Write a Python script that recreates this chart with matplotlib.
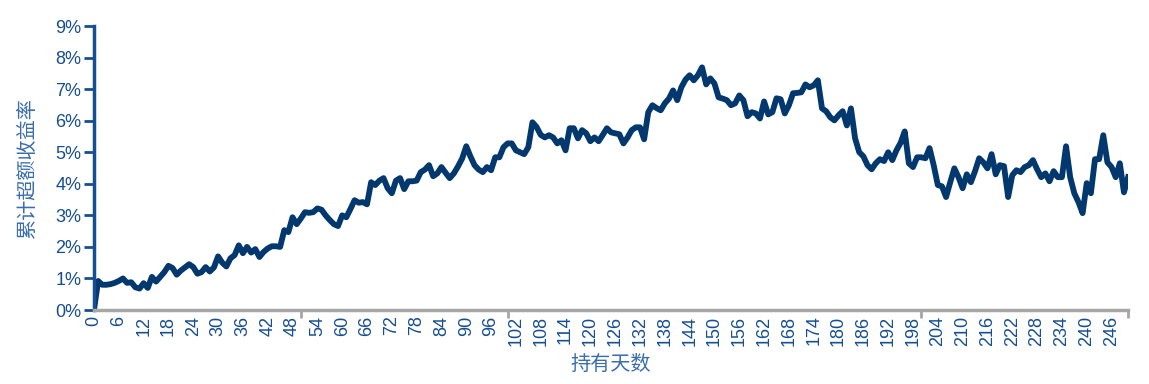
import numpy as np
import matplotlib
matplotlib.use('Agg')
import matplotlib.pyplot as plt
from matplotlib.ticker import MultipleLocator, FuncFormatter

plt.rcParams['font.family'] = ['Liberation Sans', 'Noto Sans CJK SC', 'DejaVu Sans']

# Cumulative excess return (%) by holding day
days = np.arange(0, 251)
excess = [
    0.00, 0.92, 0.80, 0.80, 0.82, 0.86, 0.92, 1.00, 0.86, 0.88,   # 0-9
    0.72, 0.68, 0.85, 0.70, 1.05, 0.90, 1.05, 1.20, 1.40, 1.33,   # 10-19
    1.12, 1.25, 1.35, 1.45, 1.36, 1.15, 1.20, 1.36, 1.22, 1.35,   # 20-29
    1.70, 1.50, 1.38, 1.64, 1.74, 2.05, 1.80, 2.00, 1.82, 1.93,   # 30-39
    1.68, 1.84, 1.95, 2.02, 2.02, 2.00, 2.53, 2.47, 2.94, 2.72,   # 40-49
    2.90, 3.10, 3.08, 3.10, 3.22, 3.18, 3.00, 2.85, 2.72, 2.66,   # 50-59
    3.00, 2.94, 3.20, 3.48, 3.40, 3.42, 3.35, 4.05, 3.96, 4.10,   # 60-69
    4.18, 3.86, 3.70, 4.10, 4.18, 3.83, 4.08, 4.08, 4.10, 4.37,   # 70-79
    4.45, 4.59, 4.24, 4.33, 4.53, 4.35, 4.18, 4.33, 4.55, 4.80,   # 80-89
    5.19, 4.87, 4.59, 4.45, 4.37, 4.53, 4.43, 4.84, 4.84, 5.16,   # 90-99
    5.28, 5.28, 5.06, 5.00, 4.94, 5.16, 5.95, 5.80, 5.55, 5.47,   # 100-109
    5.54, 5.47, 5.28, 5.38, 5.06, 5.76, 5.76, 5.44, 5.70, 5.60,   # 110-119
    5.35, 5.47, 5.35, 5.55, 5.76, 5.63, 5.60, 5.57, 5.28, 5.47,   # 120-129
    5.70, 5.79, 5.79, 5.41, 6.27, 6.49, 6.40, 6.33, 6.55, 6.70,   # 130-139
    6.96, 6.65, 7.06, 7.30, 7.44, 7.28, 7.44, 7.69, 7.15, 7.34,   # 140-149
    7.18, 6.74, 6.70, 6.65, 6.49, 6.55, 6.80, 6.65, 6.14, 6.27,   # 150-159
    6.23, 6.07, 6.61, 6.20, 6.27, 6.71, 6.68, 6.23, 6.49, 6.87,   # 160-169
    6.88, 6.90, 7.15, 7.06, 7.12, 7.28, 6.39, 6.30, 6.11, 6.01,   # 170-179
    6.17, 6.30, 5.85, 6.39, 5.44, 5.00, 4.87, 4.59, 4.46, 4.65,   # 180-189
    4.78, 4.72, 5.00, 4.75, 5.06, 5.30, 5.66, 4.65, 4.53, 4.84,   # 190-199
    4.84, 4.81, 5.13, 4.59, 3.96, 3.92, 3.58, 4.05, 4.49, 4.21,   # 200-209
    3.86, 4.30, 4.05, 4.40, 4.81, 4.68, 4.49, 4.94, 4.30, 4.59,   # 210-219
    4.56, 3.58, 4.27, 4.43, 4.37, 4.53, 4.59, 4.75, 4.46, 4.21,   # 220-229
    4.33, 4.08, 4.40, 4.21, 4.21, 5.19, 4.21, 3.70, 3.42, 3.07,   # 230-239
    4.02, 3.70, 4.78, 4.78, 5.54, 4.68, 4.53, 4.21, 4.65, 3.73,   # 240-249
    4.21,                                                         # 250
]

C_LINE = '#02386e'
C_TICK = '#164f91'
C_LABEL = '#3a6dab'
C_XAXIS = '#a6a6a6'

fig = plt.figure(figsize=(11.49, 3.84), dpi=100)
ax = fig.add_axes([0.0818, 0.1927, 0.9000, 0.7395])

ax.plot(days, excess, color=C_LINE, linewidth=4.2, solid_joinstyle='round')

ax.set_xlim(0, 250)
ax.set_ylim(0, 9)

# y axis
ax.yaxis.set_major_locator(MultipleLocator(1))
ax.yaxis.set_major_formatter(FuncFormatter(lambda v, _: f'{v:.0f}%'))
ax.tick_params(axis='y', direction='out', length=7, width=2, color=C_TICK,
               labelcolor=C_TICK, labelsize=13, pad=2)

# x axis: labels every 6 days, tick marks every 50
ax.xaxis.set_major_locator(MultipleLocator(6))
ax.xaxis.set_minor_locator(MultipleLocator(50))
ax.tick_params(axis='x', which='major', length=0, labelcolor=C_TICK,
               labelsize=13, labelrotation=90, pad=4)
ax.tick_params(axis='x', which='minor', length=6, width=2, color=C_XAXIS)

for side in ['top', 'right']:
    ax.spines[side].set_visible(False)
ax.spines['left'].set_color(C_TICK)
ax.spines['left'].set_linewidth(2.5)
ax.spines['bottom'].set_color(C_XAXIS)
ax.spines['bottom'].set_linewidth(2.5)

ax.set_ylabel('累计超额收益率', color=C_LABEL, fontsize=14.5,
              family=['Noto Sans CJK SC', 'DejaVu Sans'])
ax.yaxis.set_label_coords(-0.054, 0.5)
ax.set_xlabel('持有天数', color=C_LABEL, fontsize=14.5,
              family=['Noto Sans CJK SC', 'DejaVu Sans'])
ax.xaxis.set_label_coords(0.5, -0.155)

fig.savefig('out.png', dpi=100, facecolor='white')
